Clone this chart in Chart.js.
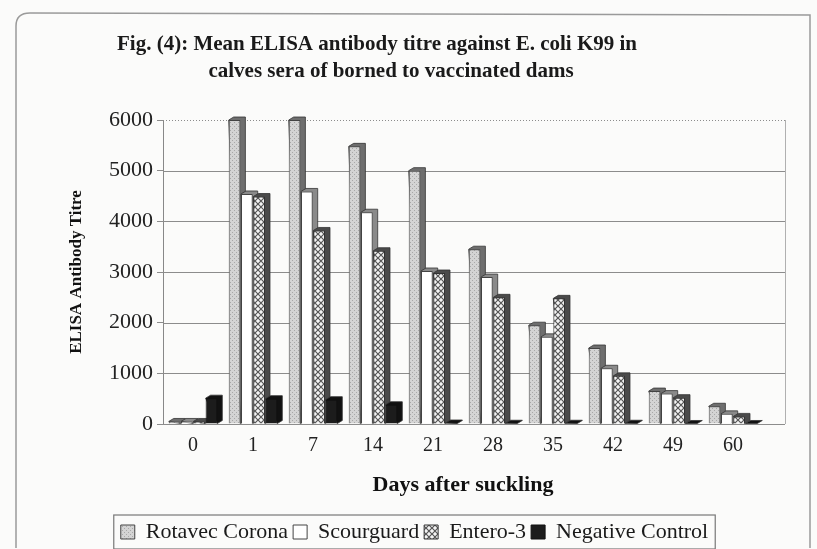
<html>
<head>
<title>Mean ELISA antibody titre against E. coli K99</title>
<style type="text/css">
html, body { margin: 0; padding: 0; background: #fbfbfa; }
#wrap { width: 817px; height: 549px; }
</style>
<script src="https://cdn.jsdelivr.net/npm/chart.js"></script>
<script>
// data
const days = ['0', '1', '7', '14', '21', '28', '35', '42', '49', '60'];
const rotavec = [50, 6000, 6000, 5480, 5000, 3450, 1950, 1500, 650, 350];
const scourguard = [50, 4540, 4590, 4180, 3020, 2900, 1720, 1100, 600, 200];
const entero = [50, 4490, 3820, 3420, 2980, 2500, 2480, 950, 520, 150];
const negative = [510, 500, 480, 380, 20, 15, 15, 15, 10, 10];
const yTicks = [0, 1000, 2000, 3000, 4000, 5000, 6000];

const titleLines = [
	'Fig. (4): Mean ELISA antibody titre against E. coli K99 in',
	'calves sera of borned to vaccinated dams'
];

function makePattern(kind)
{
	const c = document.createElement('canvas');
	const ctx = c.getContext('2d');
	if (kind === 'dots') {
		c.width = 4; c.height = 4;
		ctx.fillStyle = '#d4d4d4';
		ctx.fillRect(0, 0, 4, 4);
		ctx.fillStyle = '#a8a8a8';
		ctx.fillRect(0, 0, 1, 1);
		ctx.fillRect(2, 2, 1, 1);
	} else {
		c.width = 6; c.height = 6;
		ctx.fillStyle = '#f4f4f4';
		ctx.fillRect(0, 0, 6, 6);
		ctx.strokeStyle = '#555';
		ctx.lineWidth = 1.2;
		ctx.beginPath();
		ctx.moveTo(0, 0); ctx.lineTo(6, 6);
		ctx.moveTo(6, 0); ctx.lineTo(0, 6);
		ctx.stroke();
	}
	return ctx.createPattern(c, 'repeat');
}

const WALL = 22;

// back-wall grid lines + darker side/top faces so bars look like the 3-D original
const depthPlugin = {
	id: 'depth',
	beforeDatasetsDraw(chart) {
		const ctx = chart.ctx;
		const a = chart.chartArea;
		const ys = chart.scales.y;
		ctx.save();
		ctx.strokeStyle = '#8c8c8c';
		ctx.lineWidth = 1;
		yTicks.forEach((v) => {
			const y = Math.round(ys.getPixelForValue(v)) + 0.5;
			ctx.setLineDash(v === yTicks[yTicks.length - 1] ? [1, 2] : []);
			ctx.beginPath();
			ctx.moveTo(a.left, y);
			ctx.lineTo(a.right + WALL, y);
			ctx.stroke();
		});
		ctx.setLineDash([]);
		ctx.strokeStyle = '#b0b0b0';
		ctx.beginPath();
		ctx.moveTo(a.right + WALL + 0.5, a.top);
		ctx.lineTo(a.right + WALL + 0.5, a.bottom);
		ctx.stroke();

		const dx = 5, dy = 3;
		const sides = ['#6e6e6e', '#8a8a8a', '#4a4a4a', '#111'];
		chart.data.datasets.forEach((ds, i) => {
			chart.getDatasetMeta(i).data.forEach((bar) => {
				const p = bar.getProps(['x', 'y', 'base', 'width'], true);
				const r = p.x + p.width / 2, l = p.x - p.width / 2;
				ctx.fillStyle = sides[i];
				ctx.strokeStyle = '#333';
				ctx.lineWidth = 0.8;
				ctx.beginPath();
				ctx.moveTo(l, p.y);
				ctx.lineTo(l + dx, p.y - dy);
				ctx.lineTo(r + dx, p.y - dy);
				ctx.lineTo(r + dx, p.base - dy);
				ctx.lineTo(r, p.base);
				ctx.closePath();
				ctx.fill();
				ctx.stroke();
			});
		});
		ctx.restore();
	}
};

const framePlugin = {
	id: 'frame',
	beforeDraw(chart) {
		const ctx = chart.ctx;
		ctx.save();
		ctx.strokeStyle = '#9a9a9a';
		ctx.lineWidth = 1.5;
		ctx.beginPath();
		ctx.moveTo(16, 548);
		ctx.lineTo(16, 26);
		ctx.quadraticCurveTo(16, 13, 30, 13);
		ctx.lineTo(810, 15);
		ctx.lineTo(810, 548);
		ctx.stroke();
		ctx.restore();
	},
	afterDraw(chart) {
		const ctx = chart.ctx;
		ctx.save();
		ctx.fillStyle = '#1a1a1a';
		ctx.font = 'bold 21px "Liberation Serif", serif';
		ctx.textAlign = 'center';
		ctx.textBaseline = 'middle';
		ctx.fillText(titleLines[0], 377, 45);
		ctx.fillText(titleLines[1], 391, 72);
		// box round the legend items
		const boxes = chart.legend.legendHitBoxes;
		if (boxes && boxes.length) {
			const l = boxes[0].left - 7;
			const last = boxes[boxes.length - 1];
			const r = last.left + last.width + 7;
			const t = Math.min(...boxes.map(b => b.top)) - 6;
			const b = Math.max(...boxes.map(b => b.top + b.height)) + 6;
			ctx.strokeStyle = '#777';
			ctx.lineWidth = 1.2;
			ctx.strokeRect(l, t, r - l, b - t);
		}
		ctx.restore();
	}
};

function load()
{
	const serif = '"Liberation Serif", serif';
	const data = {
		labels: days,
		datasets: [
			{ label: 'Rotavec Corona', data: rotavec, backgroundColor: makePattern('dots'), borderColor: '#444', borderWidth: 1 },
			{ label: 'Scourguard', data: scourguard, backgroundColor: '#ffffff', borderColor: '#444', borderWidth: 1 },
			{ label: 'Entero-3', data: entero, backgroundColor: makePattern('check'), borderColor: '#333', borderWidth: 1 },
			{ label: 'Negative Control', data: negative, backgroundColor: '#1c1c1c', borderColor: '#111', borderWidth: 1 }
		]
	};
	const config = {
		type: 'bar',
		data: data,
		plugins: [framePlugin, depthPlugin],
		options: {
			responsive: false,
			animation: false,
			layout: { padding: { left: 66, right: 54, top: 120, bottom: -4 } },
			datasets: { bar: { categoryPercentage: 0.82, barPercentage: 0.95 } },
			plugins: {
				title: { display: false },
				tooltip: { enabled: false },
				legend: {
					position: 'bottom',
					labels: {
						color: '#1a1a1a',
						font: { family: serif, size: 22 },
						boxWidth: 14, boxHeight: 14,
						padding: 5
					}
				}
			},
			scales: {
				x: {
					afterFit: (s) => { s.height = 92; },
					grid: { display: false },
					border: { color: '#999' },
					ticks: { color: '#222', font: { family: serif, size: 20 }, padding: 2 },
					title: { display: true, text: 'Days after suckling', color: '#111',
						font: { family: serif, size: 22, weight: 'bold' }, padding: { top: 4, bottom: 17 } }
				},
				y: {
					min: 0, max: 6000,
					afterFit: (s) => { s.width = 97; },
					afterBuildTicks: (s) => { s.ticks = yTicks.map(v => ({ value: v })); },
					grid: { color: '#8c8c8c', tickLength: 6, drawOnChartArea: false },
					border: { color: '#888' },
					ticks: { color: '#222', font: { family: serif, size: 22 }, padding: 4,
						callback: (v) => String(v) },
					title: { display: true, text: 'ELISA Antibody Titre', color: '#111',
						font: { family: serif, size: 17, weight: 'bold' }, padding: 0 }
				}
			}
		}
	};
	new Chart(document.getElementById('myChart'), config);
}
</script>
</head>
<body onload='load();'>
<div id='wrap'>
	<canvas id="myChart" width="817" height="549"></canvas>
</div>
</body>
</html>
